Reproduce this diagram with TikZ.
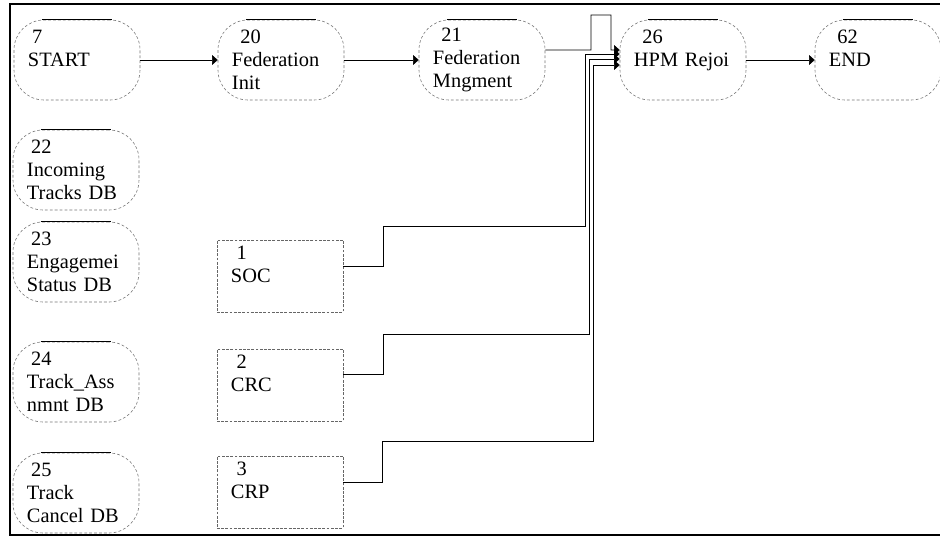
\documentclass[tikz,border=0pt]{standalone}
\usepackage{fontspec}
\setmainfont{Liberation Serif}
\usepackage{tikz}
\usetikzlibrary{arrows.meta,positioning}

\begin{document}
\begin{tikzpicture}[
  x=0.025cm, y=-0.025cm,
  obj/.style={draw=black!55, dash pattern=on 2pt off 1.5pt, rounded corners=0.75cm,
              minimum width=3.15cm, minimum height=2cm, inner xsep=0.35cm,
              text width=2.45cm, align=left, font=\fontsize{14.5}{16.5}\selectfont,
              append after command={([xshift=0.7cm]\tikzlastnode.north west)
                edge[solid, draw=black, thin] ([xshift=-0.7cm]\tikzlastnode.north east)}},
  unit/.style={draw=black!60, dash pattern=on 2pt off 1pt, minimum width=3.15cm,
               minimum height=1.8cm, inner xsep=0.35cm, text width=2.45cm,
               align=left, font=\fontsize{14.5}{16.5}\selectfont},
  flow/.style={thin, -{Triangle[length=4pt,width=7pt]}},
  lnk/.style={thin}
]
  \useasboundingbox (0,0) rectangle (940,537);
  \draw[line width=1.2pt] (940,4) -- (10,4) -- (10,535) -- (940,535);

  \node[obj] (Start) at (77,60) {\hspace*{3pt}7\\START\\~};
  \node[obj] (FedInit) at (281,60) {\hspace*{6pt}20\\Federation\\Init};
  \node[obj] (FedMng) at (482,60) {\hspace*{6pt}21\\Federation\\Mngment};
  \node[obj] (Rejoin) at (683,60) {\hspace*{6pt}26\\HPM Rejoi\\~};
  \node[obj] (End) at (878,60) {\hspace*{6pt}62\\END\\~};

  \node[obj] (TracksDB) at (76,170) {\hspace*{3pt}22\\Incoming\\Tracks DB};
  \node[obj] (StatusDB) at (76,262) {\hspace*{3pt}23\\Engagemei\\Status DB};
  \node[obj] (AssignDB) at (76,382) {\hspace*{3pt}24\\Track\_Ass\\nmnt DB};
  \node[obj] (CancelDB) at (76,493) {\hspace*{3pt}25\\Track\\Cancel DB};

  \node[unit] (Soc) at (280,276) {\hspace*{4pt}1\\SOC\\~};
  \node[unit] (Crc) at (280,385) {\hspace*{4pt}2\\CRC\\~};
  \node[unit] (Crp) at (280,492) {\hspace*{4pt}3\\CRP\\~};

  \draw[flow] (Start) -- (FedInit);
  \draw[flow] (FedInit) -- (FedMng);
  \draw[flow] ([yshift=0.25cm]FedMng.east) -- (591,50) |- (611,15) |- ([yshift=0.25cm]Rejoin.west);
  \draw[flow] (Rejoin) -- (End);

  \draw[flow] ([yshift=0.25cm]Soc.east) -| (383,226) -- (585,226) |- ([yshift=0.15cm]Rejoin.west);
  \draw[flow] ([yshift=0.275cm]Crc.east) -| (383,334) -- (589,334) |- ([yshift=0.025cm]Rejoin.west);
  \draw[flow] ([yshift=0.25cm]Crp.east) -| (382,441) -- (593,441) |- ([yshift=-0.125cm]Rejoin.west);
\end{tikzpicture}
\end{document}
